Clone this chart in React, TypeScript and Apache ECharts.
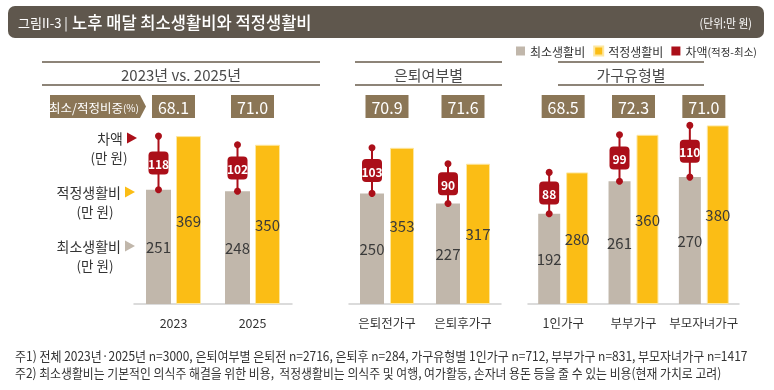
import React, { useEffect, useRef } from "react";
import * as echarts from "echarts";

const FONT = '"Noto Sans CJK KR", "Noto Sans", sans-serif';

// Panel headers
const panelTitles = ["2023년 vs. 2025년", "은퇴여부별", "가구유형별"];

// Panel 1
const cats1 = ["2023", "2025"];
const min1 = [251, 248];
const adq1 = [369, 350];
const diff1 = [118, 102];
const ratio1 = [68.1, 71.0];

// Panel 2
const cats2 = ["은퇴전가구", "은퇴후가구"];
const min2 = [250, 227];
const adq2 = [353, 317];
const diff2 = [103, 90];
const ratio2 = [70.9, 71.6];

// Panel 3
const cats3 = ["1인가구", "부부가구", "부모자녀가구"];
const min3 = [192, 261, 270];
const adq3 = [280, 360, 380];
const diff3 = [88, 99, 110];
const ratio3 = [68.5, 72.3, 71.0];

const legendNames = ["최소생활비", "적정생활비", "차액(적정-최소)"];
const titleText = "노후 매달 최소생활비와 적정생활비";
const figLabel = "그림II-3 |";
const unitText = "(단위:만 원)";
const ratioLabel = "최소/적정비중";
const note1 =
  "주1) 전체 2023년·2025년 n=3000, 은퇴여부별 은퇴전 n=2716, 은퇴후 n=284, 가구유형별 1인가구 n=712, 부부가구 n=831, 부모자녀가구 n=1417";
const note2 =
  "주2) 최소생활비는 기본적인 의식주 해결을 위한 비용,  적정생활비는 의식주 및 여행, 여가활동, 손자녀 용돈 등을 줄 수 있는 비용(현재 가치로 고려)";

const GRAY = "#c1b7ab";
const YELLOW = "#fbbd15";
const RED = "#ab0f19";
const BROWN = "#8b7656";
const BAR_DARK = "#5f574d";
const LINE = "#8d8478";

function fitScale(text: string, font: string, target: number): number {
  try {
    const c = document.createElement("canvas");
    const ctx = c.getContext("2d");
    if (!ctx) return 1;
    ctx.font = font;
    const w = ctx.measureText(text).width;
    if (!w) return 1;
    return target / w;
  } catch (e) {
    return 1;
  }
}

export default function App() {
  const ref = useRef<HTMLDivElement>(null);

  useEffect(() => {
    if (!ref.current) return;
    const chart = echarts.init(ref.current, null, { renderer: "svg" });

    const panels = [
      { cats: cats1, mins: min1, adqs: adq1, diffs: diff1, ratios: ratio1, left: 134, width: 158, top: 122, height: 182, bw: 25, gap: "20%", off: -15 },
      { cats: cats2, mins: min2, adqs: adq2, diffs: diff2, ratios: ratio2, left: 349, width: 152, top: 127, height: 177, bw: 24, gap: "25%", off: -15 },
      { cats: cats3, mins: min3, adqs: adq3, diffs: diff3, ratios: ratio3, left: 528, width: 211, top: 116, height: 188, bw: 22, gap: "27%", off: -14 },
    ];

    const grids = panels.map((p) => ({ left: p.left, top: p.top, width: p.width, height: p.height }));
    const xAxes = panels.map((p, i) => ({
      type: "category",
      gridIndex: i,
      data: p.cats,
      axisLine: { lineStyle: { color: "#cfcfcf", width: 1.5 } },
      axisTick: { show: false },
      axisLabel: { color: "#333", fontSize: 12.5, fontFamily: FONT, margin: 12, interval: 0, hideOverlap: false },
    }));
    const yAxes = panels.map((_, i) => ({ type: "value", gridIndex: i, min: 0, max: 400, show: false }));

    const series: any[] = [];
    panels.forEach((p, i) => {
      series.push({
        name: legendNames[0],
        type: "bar",
        xAxisIndex: i,
        yAxisIndex: i,
        data: p.mins,
        barWidth: p.bw,
        barGap: p.gap,
        itemStyle: { color: GRAY },
        label: { show: true, position: "inside", color: "#3a3a3a", fontSize: 15, fontFamily: FONT },
      });
      series.push({
        name: legendNames[1],
        type: "bar",
        xAxisIndex: i,
        yAxisIndex: i,
        data: p.adqs,
        barWidth: p.bw,
        barGap: p.gap,
        itemStyle: { color: YELLOW, borderColor: "#fde7a0", borderWidth: 1 },
        label: { show: true, position: "inside", color: "#3a3a3a", fontSize: 15, fontFamily: FONT },
      });
      const off = p.off;
      series.push({
        name: legendNames[2],
        type: "custom",
        xAxisIndex: i,
        yAxisIndex: i,
        itemStyle: { color: RED },
        encode: { x: 0, y: [1, 2] },
        data: p.cats.map((_, j) => [j, p.mins[j], p.adqs[j], p.diffs[j]]),
        z: 5,
        renderItem: (params: any, api: any) => {
          const j = api.value(0);
          const lo = api.coord([j, api.value(1)]);
          const hi = api.coord([j, api.value(2)]);
          const x = lo[0] + off;
          const yb = lo[1];
          const yt = hi[1];
          const ym = (yb + yt) / 2;
          return {
            type: "group",
            children: [
              { type: "line", shape: { x1: x, y1: yt, x2: x, y2: yb }, style: { stroke: RED, lineWidth: 2 } },
              { type: "circle", shape: { cx: x, cy: yt, r: 3.5 }, style: { fill: RED } },
              { type: "circle", shape: { cx: x, cy: yb, r: 3.5 }, style: { fill: RED } },
              { type: "rect", shape: { x: x - 10, y: ym - 11.5, width: 20, height: 23, r: 4 }, style: { fill: RED } },
              {
                type: "text",
                x: x,
                y: ym + 0.5,
                style: {
                  text: String(api.value(3)),
                  fill: "#fff",
                  font: `bold 12px ${FONT}`,
                  align: "center",
                  verticalAlign: "middle",
                  textAlign: "center",
                  textVerticalAlign: "middle",
                },
              },
            ],
          };
        },
      });
      series.push({
        name: "ratio",
        type: "custom",
        xAxisIndex: i,
        yAxisIndex: i,
        encode: { x: 0, y: 1 },
        data: p.cats.map((_, j) => [j, 0, p.ratios[j]]),
        renderItem: (params: any, api: any) => {
          const j = api.value(0);
          const c = api.coord([j, 0]);
          return {
            type: "group",
            children: [
              { type: "rect", shape: { x: c[0] - 21.5, y: 95, width: 43, height: 23 }, style: { fill: BROWN } },
              {
                type: "text",
                x: c[0],
                y: 107,
                style: {
                  text: Number(api.value(2)).toFixed(1),
                  fill: "#fff",
                  font: `16px ${FONT}`,
                  align: "center",
                  verticalAlign: "middle",
                  textAlign: "center",
                  textVerticalAlign: "middle",
                },
              },
            ],
          };
        },
      });
    });

    const txt = (x: number, y: number, text: string, size: number, color: string, align = "left", extra: any = {}) => ({
      type: "text",
      x,
      y,
      ...extra,
      style: {
        text,
        fill: color,
        font: `${extra.weight || "normal"} ${size}px ${FONT}`,
        align,
        verticalAlign: "middle",
        textAlign: align,
        textVerticalAlign: "middle",
      },
    });

    const titleFont = `500 17px ${FONT}`;
    const note1Scale = fitScale(note1, `13px ${FONT}`, 733);
    const note2Scale = fitScale(note2, `13px ${FONT}`, 707);
    const titleScale = fitScale(titleText, titleFont, 240);
    const figScale = fitScale(figLabel, `13px ${FONT}`, 50);

    const headerXs = [
      { x1: 42, x2: 320 },
      { x1: 355, x2: 502 },
      { x1: 558, x2: 704 },
    ];

    const graphics: any[] = [
      { type: "rect", shape: { x: 8, y: 6, width: 756, height: 32, r: 7 }, style: { fill: BAR_DARK } },
      txt(18, 22.5, figLabel, 13, "#fff", "left", { scaleX: figScale }),
      { type: "text", x: 72, y: 22, scaleX: titleScale, style: { text: titleText, fill: "#fff", font: titleFont, align: "left", verticalAlign: "middle", textAlign: "left", textVerticalAlign: "middle" } },
      txt(752, 22.5, unitText, 12, "#fff", "right", { scaleX: 0.9, originX: 0 }),
    ];
    headerXs.forEach((h, i) => {
      graphics.push({ type: "line", shape: { x1: h.x1, y1: 62, x2: h.x2, y2: 62 }, style: { stroke: LINE, lineWidth: 2 } });
      graphics.push({ type: "line", shape: { x1: h.x1, y1: 85, x2: h.x2, y2: 85 }, style: { stroke: LINE, lineWidth: 2 } });
      graphics.push(txt((h.x1 + h.x2) / 2, 74.5, panelTitles[i], 15, "#4a4a4a", "center"));
    });
    // ratio label arrow box
    graphics.push({
      type: "polygon",
      shape: { points: [[50, 95], [140, 95], [146, 106.5], [140, 118], [50, 118]] },
      style: { fill: BROWN },
    });
    graphics.push({
      type: "text",
      x: 94,
      y: 107,
      style: {
        text: `${ratioLabel}{s|(%)}`,
        fill: "#fff",
        font: `12.5px ${FONT}`,
        align: "center",
        verticalAlign: "middle",
        textAlign: "center",
        textVerticalAlign: "middle",
        rich: { s: { fontSize: 10, fill: "#fff", fontFamily: FONT } },
      },
    });
    // left row labels
    const rows = [
      { label: "차액", y: 138, color: RED, ux: 109, tx: 127 },
      { label: "적정생활비", y: 192, color: YELLOW, ux: 95, tx: 125 },
      { label: "최소생활비", y: 246, color: GRAY, ux: 95, tx: 125 },
    ];
    rows.forEach((r) => {
      graphics.push(txt(r.tx - 4, r.y, r.label, 14, "#333", "right"));
      graphics.push(txt(r.ux, r.y + 18.5, "(만 원)", 13.5, "#333", "center"));
      graphics.push({
        type: "polygon",
        shape: { points: [[r.tx, r.y - 5.5], [r.tx + 10, r.y], [r.tx, r.y + 5.5]] },
        style: { fill: r.color },
      });
    });
    graphics.push(txt(15, 355, note1, 13, "#333", "left", { scaleX: note1Scale }));
    graphics.push(txt(15, 373, note2, 13, "#333", "left", { scaleX: note2Scale }));

    chart.setOption({
      animation: false,
      textStyle: { fontFamily: FONT },
      legend: {
        data: legendNames,
        left: 511,
        top: 43,
        padding: [2, 5, 2, 5],
        icon: "rect",
        itemWidth: 9,
        itemHeight: 9,
        itemGap: 8,
        textStyle: { fontSize: 12, color: "#333", fontFamily: FONT, rich: { s: { fontSize: 10.5, color: "#333", fontFamily: FONT } } },
        formatter: (name: string) => (name === legendNames[2] ? "차액{s|(적정-최소)}" : name),
      },
      grid: grids,
      xAxis: xAxes,
      yAxis: yAxes,
      series,
      graphic: graphics,
    });

    return () => chart.dispose();
  }, []);

  return <div ref={ref} style={{ position: "fixed", left: 0, top: 0, width: 774, height: 390 }} />;
}
